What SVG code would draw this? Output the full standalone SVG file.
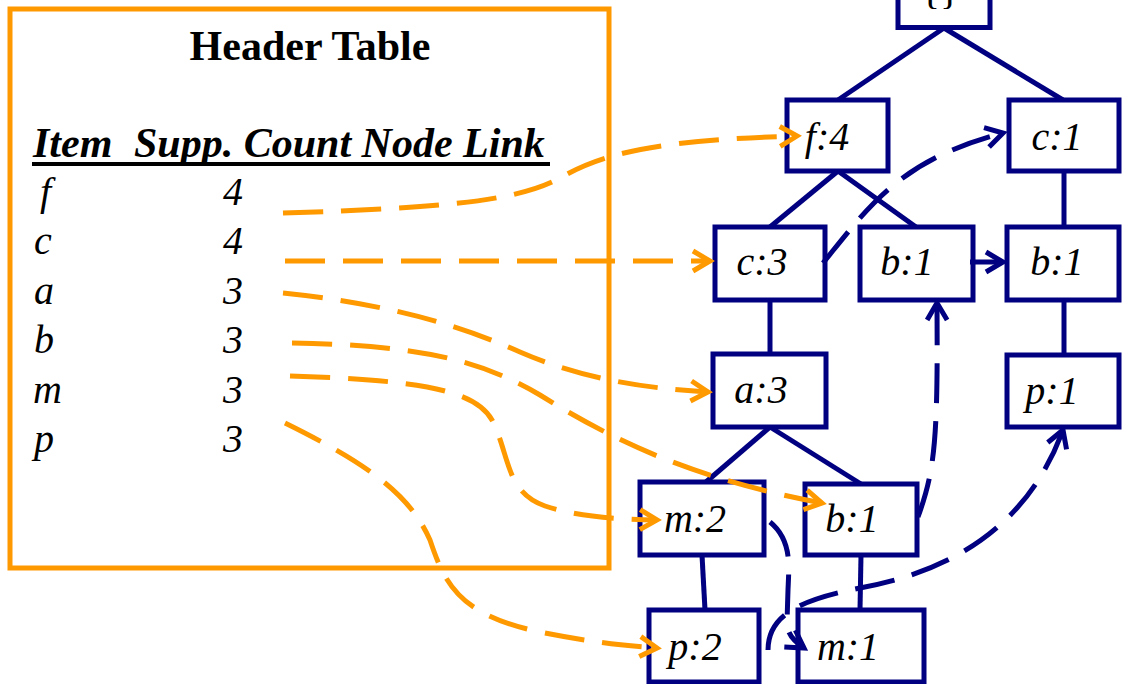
<svg xmlns="http://www.w3.org/2000/svg" width="1122" height="684" viewBox="0 0 1122 684">
<style>
.tbl { fill:none; stroke:#FF9900; stroke-width:5; }
.title { font-family:"Liberation Serif","Times New Roman",serif; font-weight:bold; font-size:42px; fill:#000; }
.hdr { font-family:"Liberation Serif","Times New Roman",serif; font-weight:bold; font-style:italic; font-size:42px; fill:#000; }
.row { font-family:"Liberation Serif","Times New Roman",serif; font-style:italic; font-size:40px; fill:#000; }
.node rect { fill:#fff; stroke:#000080; stroke-width:5; }
.node text { font-family:"Liberation Serif","Times New Roman",serif; font-style:italic; font-size:40px; text-anchor:middle; fill:#000; }
.edge { stroke:#000080; stroke-width:5; fill:none; }
.lo { stroke:#FF9900; stroke-width:5; fill:none; stroke-dasharray:40 18; marker-end:url(#ao); }
.ln { stroke:#000080; stroke-width:5; fill:none; stroke-dasharray:40 18; marker-end:url(#an); }
</style>
<defs>
<marker id="ao" markerUnits="userSpaceOnUse" viewBox="-24 -16 30 32" markerWidth="30" markerHeight="32" refX="0" refY="0" orient="auto">
<path d="M-17,-10 L0,0 L-17,10" fill="none" stroke="#FF9900" stroke-width="5" stroke-dasharray="none"/>
</marker>
<marker id="an" markerUnits="userSpaceOnUse" viewBox="-24 -16 30 32" markerWidth="30" markerHeight="32" refX="0" refY="0" orient="auto">
<path d="M-17,-10 L0,0 L-17,10" fill="none" stroke="#000080" stroke-width="5" stroke-dasharray="none"/>
</marker>
</defs>

<g id="header-table">
<rect class="tbl" x="10" y="9" width="599" height="559"/>
<text class="title" x="310" y="60" text-anchor="middle">Header Table</text>
<text class="hdr" x="33" y="157">Item</text>
<text class="hdr" x="134" y="157">Supp. Count Node Link</text>
<line x1="32" y1="164" x2="550" y2="164" stroke="#000" stroke-width="4"/>
<text class="row" x="40" y="205">f</text><text class="row" x="223" y="205">4</text>
<text class="row" x="34" y="254">c</text><text class="row" x="223" y="254">4</text>
<text class="row" x="34" y="304">a</text><text class="row" x="223" y="304">3</text>
<text class="row" x="34" y="353">b</text><text class="row" x="223" y="353">3</text>
<text class="row" x="33" y="403">m</text><text class="row" x="223" y="403">3</text>
<text class="row" x="34" y="452">p</text><text class="row" x="223" y="452">3</text>
</g>

<g id="tree-edges">
<line class="edge" x1="944" y1="28" x2="838" y2="100"/>
<line class="edge" x1="944" y1="28" x2="1063" y2="100"/>
<line class="edge" x1="838" y1="171" x2="770" y2="227"/>
<line class="edge" x1="838" y1="171" x2="916" y2="227"/>
<line class="edge" x1="1064" y1="171" x2="1064" y2="227"/>
<line class="edge" x1="770" y1="300" x2="770" y2="354"/>
<line class="edge" x1="1064" y1="300" x2="1064" y2="355"/>
<line class="edge" x1="770" y1="427" x2="706" y2="482"/>
<line class="edge" x1="770" y1="427" x2="861" y2="484"/>
<line class="edge" x1="702" y1="555" x2="705" y2="610"/>
<line class="edge" x1="861" y1="555" x2="860" y2="610"/>
</g>

<g id="node-root" class="node"><rect x="898" y="-45" width="92" height="72.5"/><text x="940" y="4" style="font-style:normal">{}</text></g>
<g id="node-f4" class="node"><rect x="787" y="100" width="101" height="71"/><text x="827" y="150">f:4</text></g>
<g id="node-c1" class="node"><rect x="1009" y="100" width="110" height="71"/><text x="1057" y="150">c:1</text></g>
<g id="node-c3" class="node"><rect x="715" y="227" width="110" height="73"/><text x="762" y="275">c:3</text></g>
<g id="node-b1a" class="node"><rect x="860" y="227" width="113" height="73"/><text x="907" y="275">b:1</text></g>
<g id="node-b1b" class="node"><rect x="1007" y="227" width="112" height="73"/><text x="1057" y="275">b:1</text></g>
<g id="node-a3" class="node"><rect x="713" y="354" width="113" height="73"/><text x="761" y="403">a:3</text></g>
<g id="node-p1" class="node"><rect x="1007" y="355" width="112" height="72"/><text x="1052" y="404">p:1</text></g>
<g id="node-m2" class="node"><rect x="640" y="482" width="124" height="73"/><text x="695" y="532">m:2</text></g>
<g id="node-b1c" class="node"><rect x="805" y="484" width="112" height="71"/><text x="852" y="532">b:1</text></g>
<g id="node-p2" class="node"><rect x="649" y="610" width="110" height="72"/><text x="695" y="660">p:2</text></g>
<g id="node-m1" class="node"><rect x="798" y="610" width="126" height="72"/><text x="848" y="660">m:1</text></g>

<g id="connectors">
<path class="lo" d="M283,213 C450,208 520,200 560,178 C600,155 650,140 797,136"/>
<path class="lo" d="M285,261 L710,261"/>
<path class="lo" d="M283,293 C400,305 470,330 520,352 C580,378 640,388 708,392"/>
<path class="lo" d="M292,343 C420,345 480,360 540,395 C620,445 700,480 822,503"/>
<path class="lo" d="M290,376 C420,380 475,390 492,420 C510,455 505,492 545,506 C575,516 610,519 657,520"/>
<path class="lo" d="M285,423 C370,465 410,495 430,540 C445,585 460,615 540,632 C590,642 620,645 657,648"/>
<path class="ln" d="M823,263 C870,205 900,160 1003,133"/>
<path class="ln" d="M970,262 L1003,262"/>
<path class="ln" d="M918,517 C935,470 938,440 937,303"/>
<path class="ln" d="M770,522 C792,540 789,565 788,590 L787,622 C787,635 795,642 804,648"/>
<path class="ln" d="M768,650 C768,615 800,600 860,588 C960,570 1030,520 1063,430"/>
</g>
</svg>
